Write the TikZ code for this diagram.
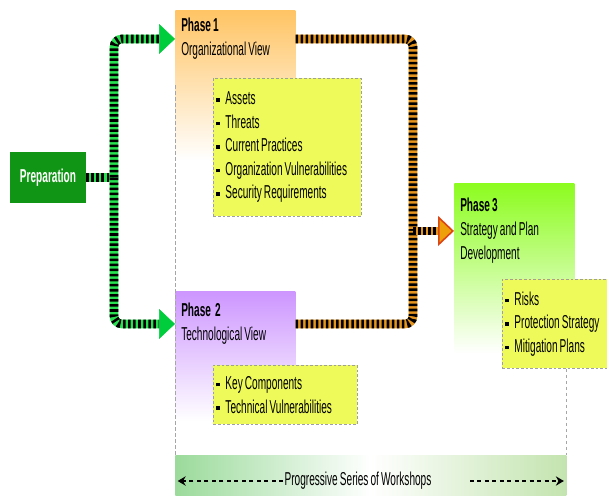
\documentclass[tikz,border=0pt]{standalone}
\usepackage{fontspec}
\setmainfont{Liberation Sans}[FakeStretch=0.54, WordSpace=0.75]
\usetikzlibrary{arrows.meta,positioning}

\definecolor{prepgreen}{RGB}{16,150,20}
\definecolor{flowgreen}{RGB}{40,225,80}
\definecolor{tipgreen}{RGB}{0,205,60}
\definecolor{flowamber}{RGB}{230,150,30}
\definecolor{tipamber}{RGB}{238,160,10}
\definecolor{tipred}{RGB}{220,70,20}
\definecolor{ph1orange}{RGB}{255,196,100}
\definecolor{ph2violet}{RGB}{205,150,255}
\definecolor{ph3lime}{RGB}{140,252,30}
\definecolor{listyellow}{RGB}{238,250,90}
\definecolor{barleft}{RGB}{155,218,155}
\definecolor{barright}{RGB}{195,228,175}

\newcommand{\itm}{\rule[2.4pt]{2.6pt}{2.6pt}\hspace{4.2pt}}

\begin{document}
\begin{tikzpicture}[x=0.75pt, y=-0.75pt,
            prep/.style={rectangle, fill=prepgreen, text=white, font=\bfseries\fontsize{14}{17}\selectfont, minimum width=57pt, minimum height=38.25pt},
            phasebg/.style={rectangle, anchor=north west, minimum width=90pt, top color=#1, bottom color=white, inner sep=0pt},
            title/.style={rectangle, anchor=north west, align=flush left, text width=81pt, inner xsep=4.5pt, inner ysep=0pt, font=\fontsize{14}{18}\selectfont},
            items/.style={rectangle, anchor=north west, fill=listyellow, draw=gray!75, dash pattern=on 2pt off 1.5pt, line width=0.6pt, align=flush left, inner xsep=2.25pt, font=\fontsize{14}{17.6}\selectfont},
            guide/.style={draw=gray!70, line width=0.7pt, dash pattern=on 2.5pt off 2pt},
            flow/.style={line width=6.5pt, draw=#1, rounded corners=6pt},
            striped/.style={postaction={draw=black, -, dash pattern=on 1.9pt off 1.9pt, shorten >=#1}},
            striped/.default=0pt,
            greentip/.style={-{Triangle[length=12pt, width=22.5pt, line width=0.4pt, fill=tipgreen, color=tipgreen]}, striped=12pt},
            ambertip/.style={-{Triangle[length=12pt, width=22.5pt, line width=1.2pt, fill=tipamber, color=tipred]}, striped=12pt},
            bar/.style={rectangle, anchor=north west, minimum width=293.25pt, minimum height=38.25pt, left color=barleft, right color=barright, middle color=white},
            wsarrow/.style={-{Stealth[length=6pt, width=7pt]}, line width=1pt, dash pattern=on 3pt off 2.6pt, shorten >=2pt}
            ]
            \path[use as bounding box, clip] (0,0) rectangle (607,496);
            
            % Phase backgrounds
            \node[phasebg=ph1orange, minimum height=112.5pt] (ph1bg) at (175,10) {};
            \node[phasebg=ph2violet, minimum height=97.5pt] (ph2bg) at (175,291) {};
            \node[phasebg=ph3lime, minimum height=127.5pt] (ph3bg) at (454,183) {};
            
            % Workshops bar
            \node[bar] (bar) at (175,455) {};
            \node[font=\fontsize{14}{16}\selectfont, inner sep=1pt] (wsl) at (358,481) {Progressive Series of Workshops};
            \coordinate (wsr) at (470,481);
            \draw[wsarrow] (wsl.west) -- (bar.west |- wsl.west);
            \draw[wsarrow] (wsr) -- (bar.east |- wsr);
            
            % Lists
            \node[items, text width=106.5pt, minimum height=103.5pt] (orgitems) at (213,78) {\itm Assets\\ \itm Threats\\ \itm Current Practices\\ \itm Organization Vulnerabilities\\ \itm Security Requirements};
            \node[items, text width=103.5pt, minimum height=44.25pt] (techitems) at (213,365) {\itm Key Components\\ \itm Technical Vulnerabilities};
            \node[items, text width=78pt, minimum height=66.75pt] (planitems) at (502,279) {\itm Risks\\ \itm Protection Strategy\\ \itm Mitigation Plans};
            
            % Guide lines
            \draw[guide] (ph1bg.west) -- (bar.north west);
            \draw[guide] (planitems.south -| bar.east) -- (bar.north east);
            
            % Main nodes
            \node[prep] (prep) at (48,177.5) {Preparation};
            \node[title] (ph1) at (175,18) {\textbf{Phase 1}\\Organizational View};
            \node[title] (ph2) at (175,303) {\textbf{Phase\ \ 2}\\Technological View};
            \node[title] (ph3) at (454,198) {\textbf{Phase 3}\\Strategy and Plan\\Development};
            
            % Preparation to phases 1 and 2
            \coordinate (sx) at (114,0);
            \coordinate (split) at (prep.east -| sx);
            \draw[flow=flowgreen, striped] (prep.east) -- (split);
            \draw[flow=flowgreen, greentip] (split) |- (ph1.west);
            \draw[flow=flowgreen, greentip] (split) |- (ph2.west);
            
            % Phases 1 and 2 to phase 3
            \coordinate (mx) at (413,0);
            \coordinate (merge) at (ph3.west -| mx);
            \draw[flow=flowamber, striped] (ph1.east) -| (merge);
            \draw[flow=flowamber, striped] (ph2.east) -| (merge);
            \draw[flow=flowamber, ambertip] (merge) -- (ph3.west);
            
        \end{tikzpicture}
\end{document}
